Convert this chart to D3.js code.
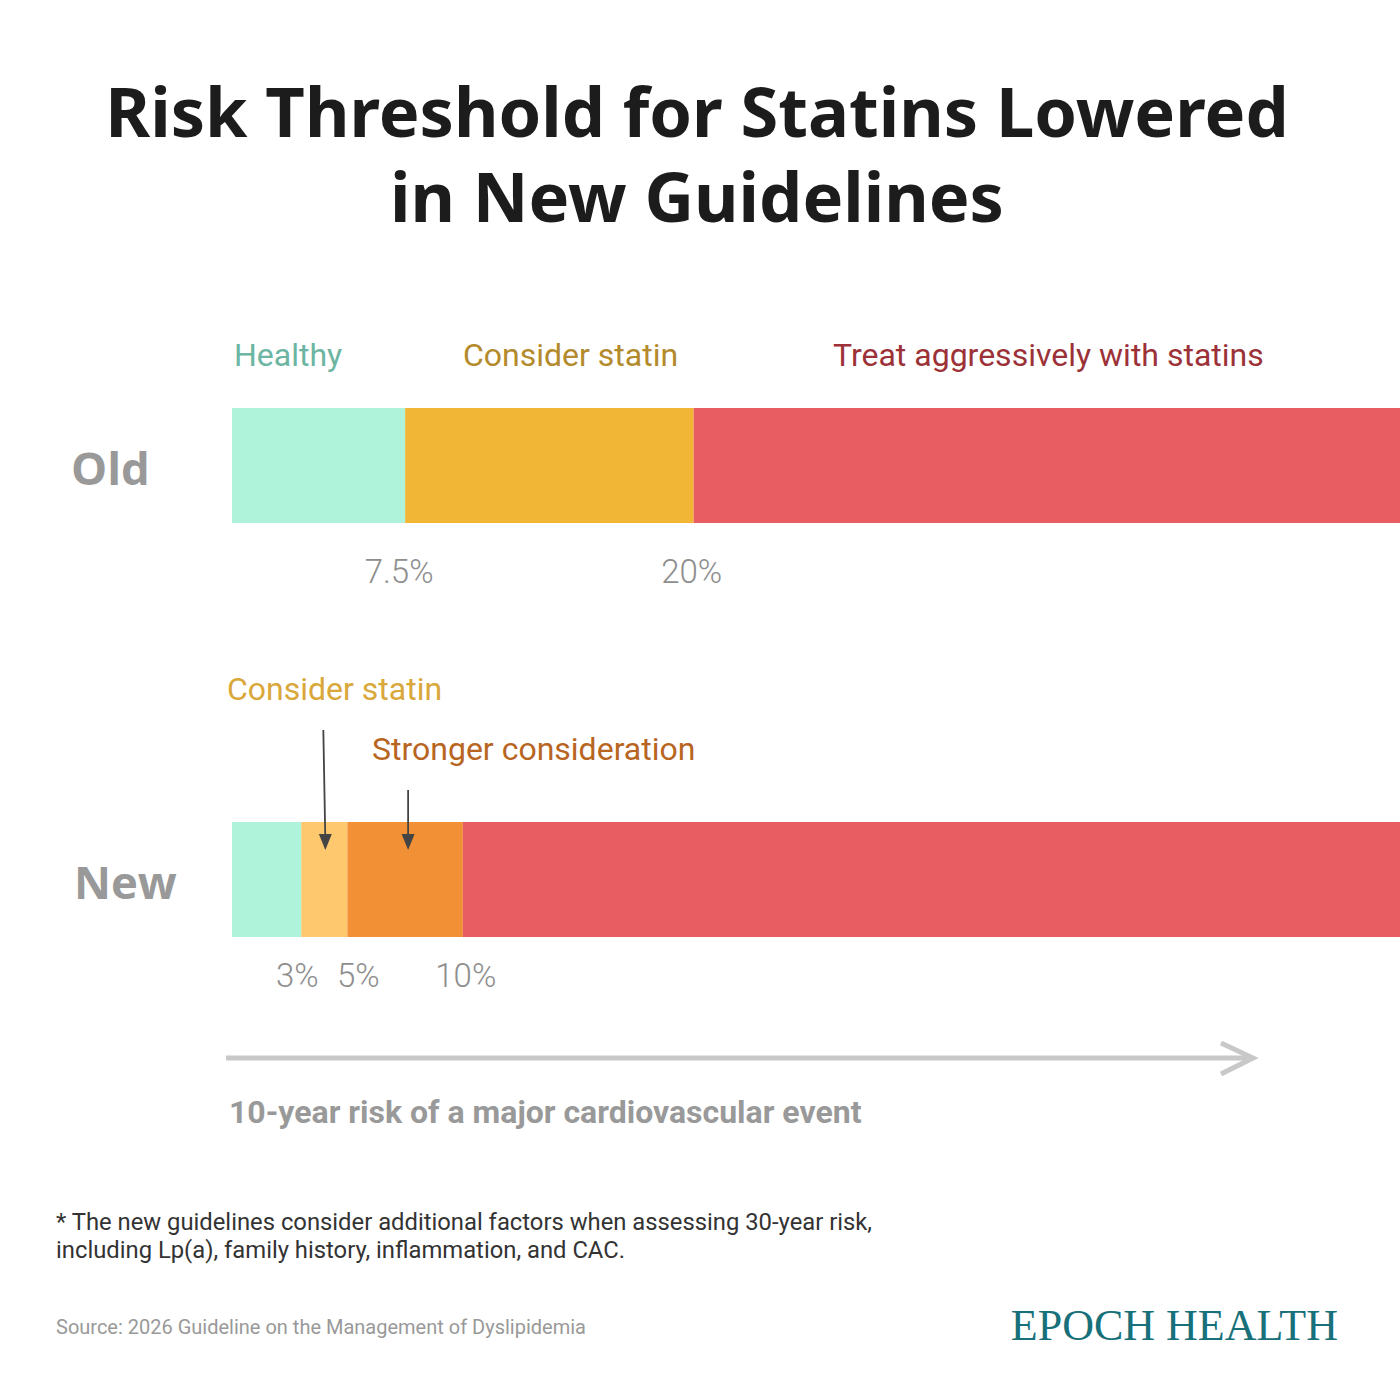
<!DOCTYPE html>
<html>
<head>
<meta charset="utf-8">
<script src="https://cdnjs.cloudflare.com/ajax/libs/d3/7.8.5/d3.min.js"></script>
<style>
  html, body { margin: 0; padding: 0; background: #fff; }
  svg { display: block; }
</style>
</head>
<body>
<svg id="chart"></svg>
<script>
// data
const rowNames = ["Old", "New"]
const oldBreaks = [7.5, 20]
const oldTickLabels = ["7.5%", "20%"]
const oldCategories = ["Healthy", "Consider statin", "Treat aggressively with statins"]
const newBreaks = [3, 5, 10]
const newTickLabels = ["3%", "5%", "10%"]
const newCategories = ["Healthy", "Consider statin", "Stronger consideration", "Treat aggressively with statins"]
const MAX_RISK = 50.6
const titleLines = ["Risk Threshold for Statins Lowered", "in New Guidelines"]

let width = 1400,
	height = 1400
let svg = d3.select('svg#chart')
	.attr('width', width)
	.attr('height', height)

let x = d3.scaleLinear().domain([0, MAX_RISK]).range([232, 1400])

const segColors = {
	"Old": ['#aef3da', '#f2b636', '#e85d61'],
	"New": ['#aef3da', '#fec96e', '#f19035', '#e85d61']
}
// small horizontal nudges of the tick labels, as in the original
const tickNudge = {"Old": [-6, -2], "New": [-4, 11, 3]}

function segments(breaks) {
	let edges = [0].concat(breaks, [MAX_RISK])
	return d3.range(edges.length - 1).map(i => ({from: edges[i], to: edges[i + 1], i: i}))
}

// title
svg.append('g').selectAll('text')
	.data(titleLines)
	.join('text')
	.attr('x', 697)
	.attr('y', (d, i) => 137 + i * 85)
	.attr('text-anchor', 'middle')
	.attr('font-family', 'Noto Sans')
	.attr('font-weight', 700)
	.attr('font-size', 68.5)
	.attr('fill', '#1c1c1c')
	.text(d => d)

const rowY = {"Old": 408, "New": 822}
const barH = 115

// bars
rowNames.forEach(name => {
	let breaks = name === "Old" ? oldBreaks : newBreaks
	let labels = name === "Old" ? oldTickLabels : newTickLabels
	let g = svg.append('g').attr('class', 'row-' + name)
	g.selectAll('rect')
		.data(segments(breaks))
		.join('rect')
		.attr('x', d => x(d.from))
		.attr('width', d => x(d.to) - x(d.from))
		.attr('y', rowY[name])
		.attr('height', barH)
		.attr('fill', d => segColors[name][d.i])

	g.selectAll('text.tick')
		.data(breaks)
		.join('text')
		.attr('class', 'tick')
		.attr('x', (d, i) => x(d) + tickNudge[name][i])
		.attr('y', rowY[name] + barH + (name === "Old" ? 60 : 50))
		.attr('text-anchor', 'middle')
		.attr('font-family', 'Roboto')
		.attr('font-weight', 300)
		.attr('font-size', 33)
		.attr('fill', '#8e8e8e')
		.text((d, i) => labels[i])

	g.append('text')
		.attr('x', name === "Old" ? 71 : 74)
		.attr('y', rowY[name] + 77)
		.attr('font-family', 'Open Sans')
		.attr('font-weight', 700)
		.attr('font-size', 45.5)
		.attr('fill', '#999')
		.text(name)
})

// category labels above old bar
const oldLabelX = [234, 463, 833]
const oldLabelColor = ['#6cb5a3', '#b38b2c', '#9c3238']
svg.append('g').selectAll('text')
	.data(oldCategories)
	.join('text')
	.attr('x', (d, i) => oldLabelX[i])
	.attr('y', 366)
	.attr('font-family', 'Roboto')
	.attr('font-size', 32)
	.attr('fill', (d, i) => oldLabelColor[i])
	.text(d => d)

// callouts for the new bar
let newSegs = segments(newBreaks)
const callouts = [
	{label: newCategories[1], seg: 1, tx: 227, ty: 700, y0: 730, color: '#d9a73a'},
	{label: newCategories[2], seg: 2, tx: 372, ty: 760, y0: 790, color: '#b8651f'}
]
let cg = svg.append('g')
cg.selectAll('text')
	.data(callouts)
	.join('text')
	.attr('x', d => d.tx)
	.attr('y', d => d.ty)
	.attr('font-family', 'Roboto')
	.attr('font-size', 32)
	.attr('fill', d => d.color)
	.text(d => d.label)

function midX(d) {
	let s = newSegs[d.seg]
	return x((s.from + s.to) / 2) + (d.seg === 2 ? 3 : 0)
}
// arrow shafts and heads
cg.selectAll('line')
	.data(callouts)
	.join('line')
	.attr('x1', d => midX(d) - (d.seg === 1 ? 1 : 0)).attr('x2', d => midX(d) + (d.seg === 1 ? 1 : 0))
	.attr('y1', d => d.y0).attr('y2', 840)
	.attr('stroke', '#444')
	.attr('stroke-width', 1.8)
cg.selectAll('path')
	.data(callouts)
	.join('path')
	.attr('d', d => {
		let mx = midX(d) + (d.seg === 1 ? 1 : 0)
		return `M${mx - 6.5},834 L${mx + 6.5},834 L${mx},850 Z`
	})
	.attr('fill', '#444')

// risk axis arrow
let ag = svg.append('g')
ag.append('line')
	.attr('x1', 226).attr('x2', 1252)
	.attr('y1', 1058).attr('y2', 1058)
	.attr('stroke', '#c8c8c8')
	.attr('stroke-width', 5)
ag.append('path')
	.attr('d', 'M1221,1043 L1253,1058 L1221,1074')
	.attr('fill', 'none')
	.attr('stroke', '#c8c8c8')
	.attr('stroke-width', 5)
ag.append('text')
	.attr('x', 229).attr('y', 1123)
	.attr('font-family', 'Roboto')
	.attr('font-weight', 700)
	.attr('font-size', 32)
	.attr('fill', '#999')
	.text('10-year risk of a major cardiovascular event')

// footnote
svg.append('g').selectAll('text')
	.data(["* The new guidelines consider additional factors when assessing 30-year risk,",
		"including Lp(a), family history, inflammation, and CAC."])
	.join('text')
	.attr('x', 56)
	.attr('y', (d, i) => 1230 + i * 28)
	.attr('font-family', 'Roboto')
	.attr('font-size', 23.8)
	.attr('fill', '#333')
	.text(d => d)

svg.append('text')
	.attr('x', 56).attr('y', 1334)
	.attr('font-family', 'Roboto')
	.attr('font-size', 20)
	.attr('fill', '#999')
	.text('Source: 2026 Guideline on the Management of Dyslipidemia')

svg.append('text')
	.attr('x', 1338).attr('y', 1340)
	.attr('text-anchor', 'end')
	.attr('font-family', 'Liberation Serif')
	.attr('font-size', 44)
	.attr('fill', '#17707a')
	.text('EPOCH HEALTH')
</script>
</body>
</html>
